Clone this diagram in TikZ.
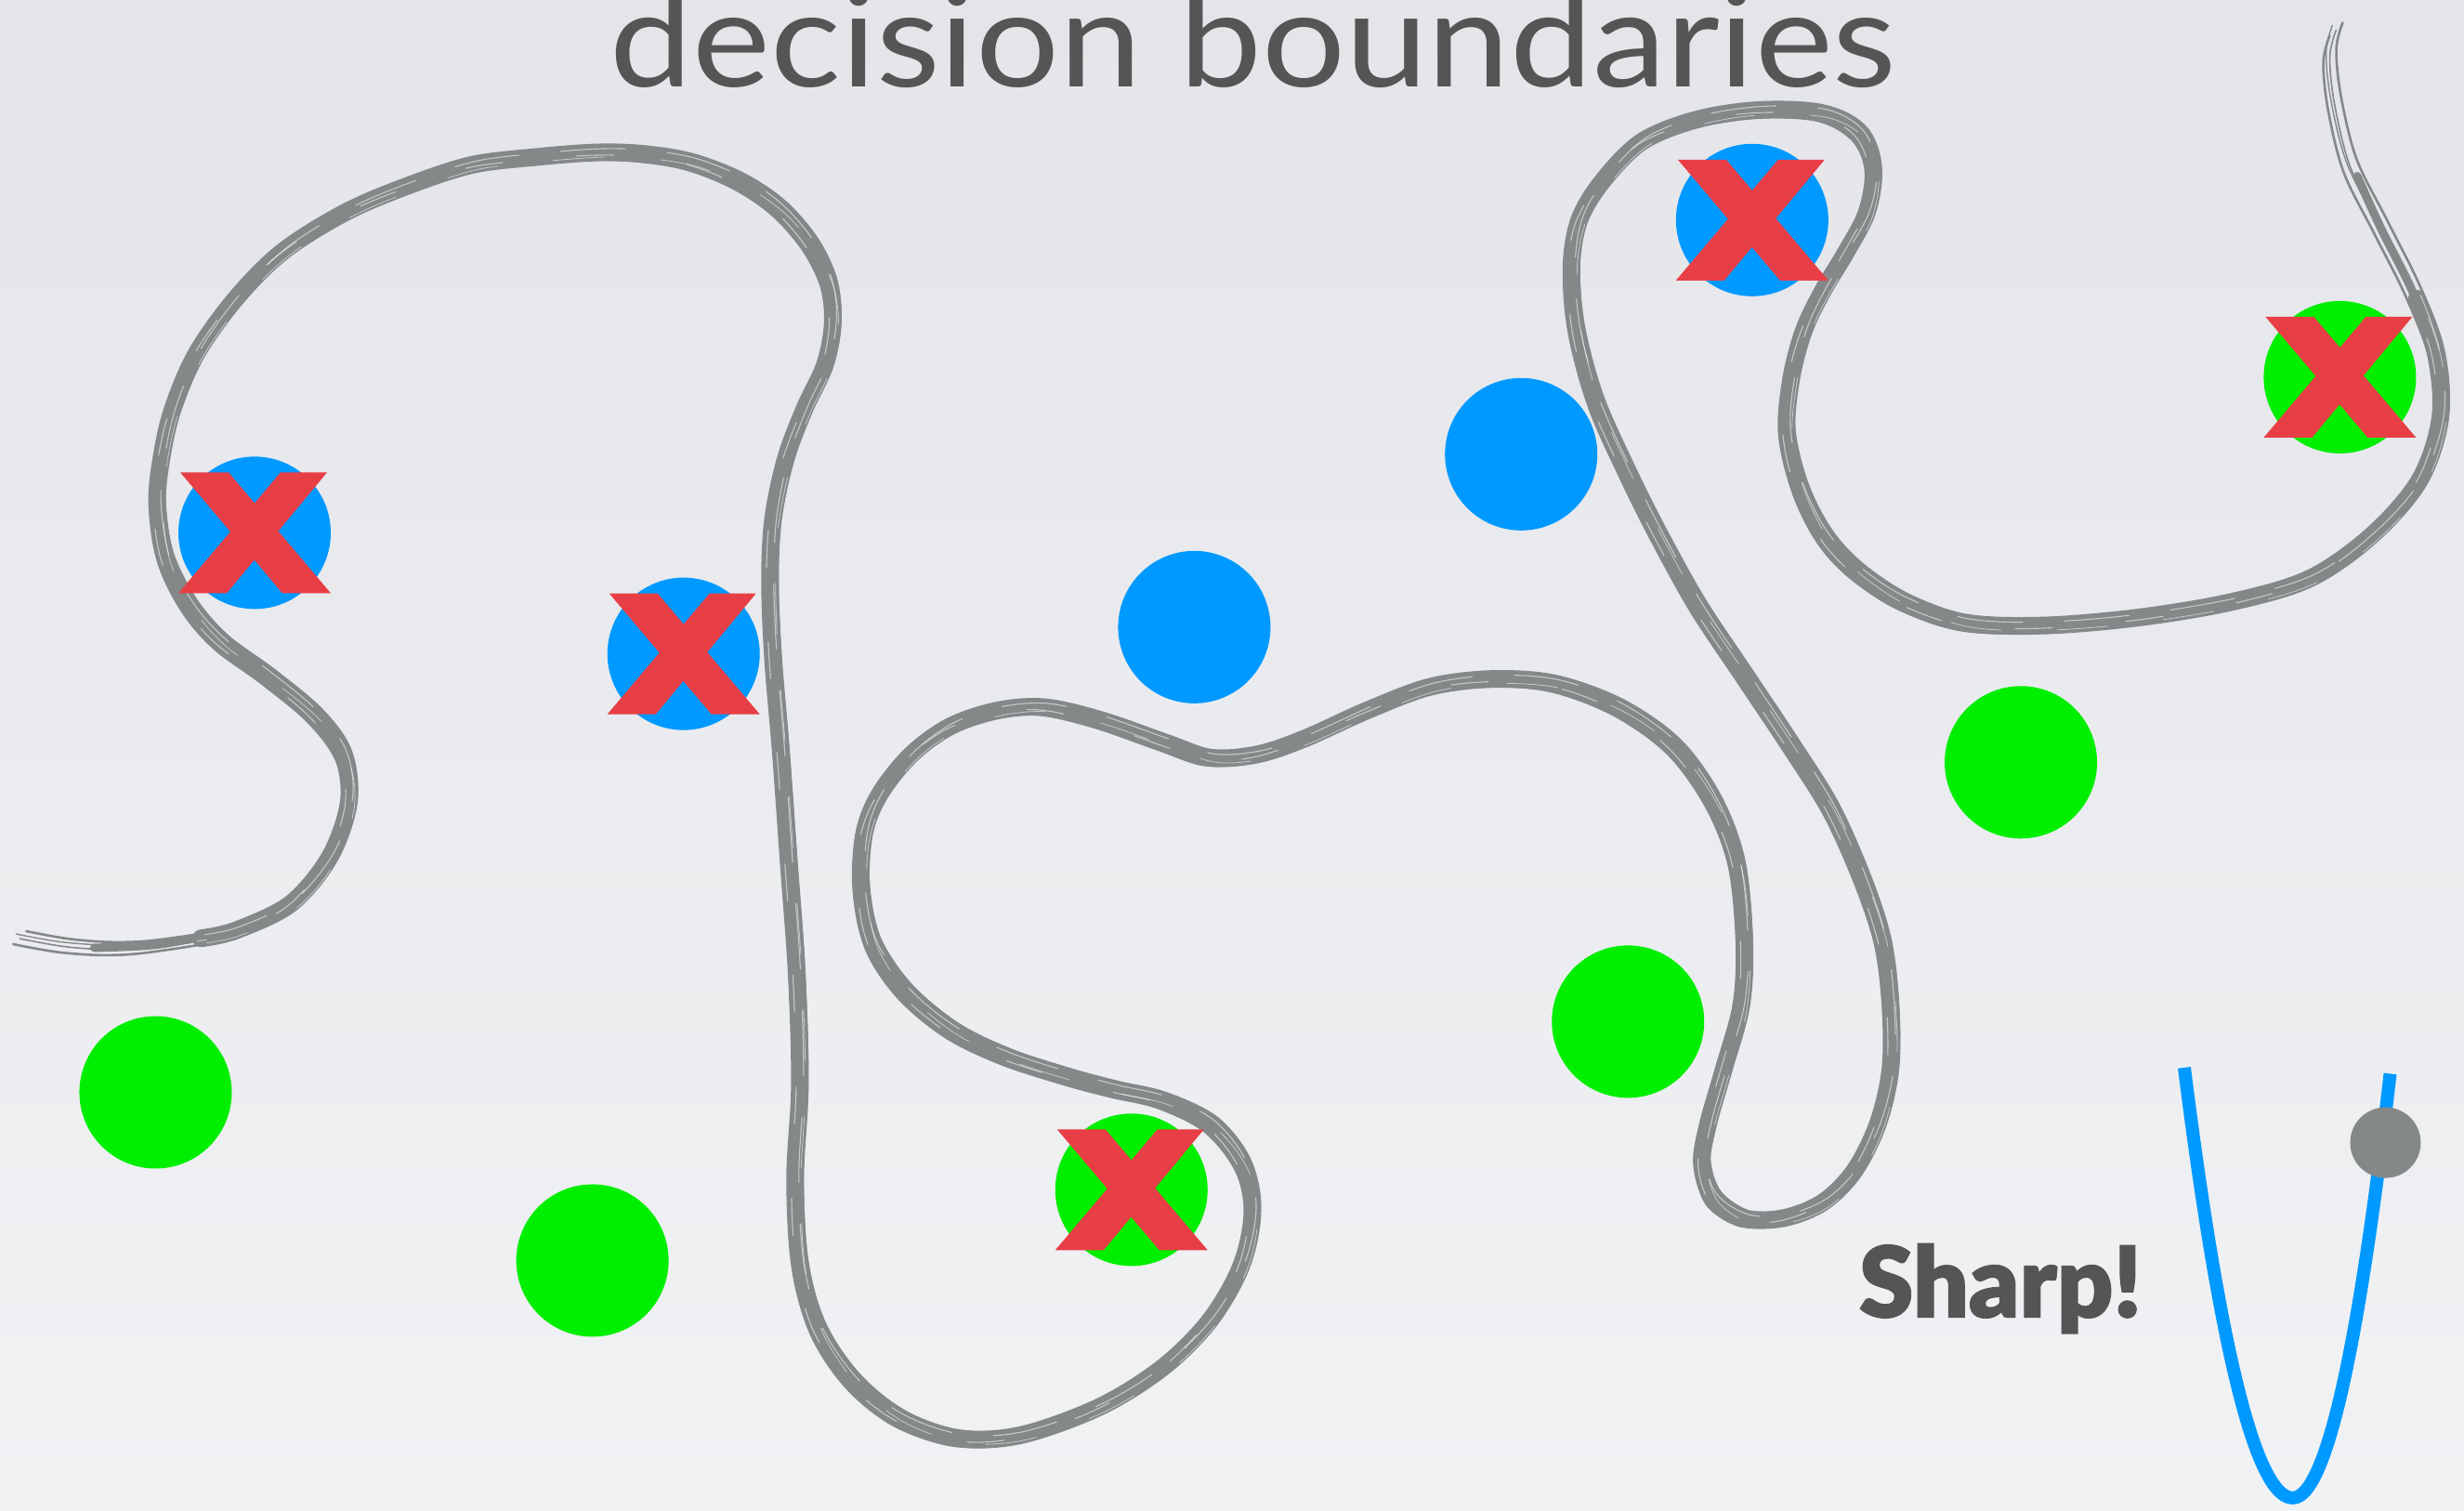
\documentclass[tikz,border=0pt]{standalone}
\usepackage{fontspec}
\newfontfamily\titlefont{Lato}
\newfontfamily\sharpfont{Lato Black}[FakeBold=1.6]
\definecolor{bgtop}{RGB}{227,229,233}
\definecolor{bgbot}{RGB}{241,242,244}
\definecolor{dotblue}{RGB}{0,153,255}
\definecolor{dotgreen}{RGB}{0,238,0}
\definecolor{xred}{RGB}{232,62,69}
\definecolor{brushgray}{RGB}{133,136,136}
\definecolor{textgray}{RGB}{85,85,85}
% core of the brush stroke
\newcommand\corepath{plot[smooth,tension=0.55] coordinates {
(128,597) (150,592) (185,575) (210,545) (222,510) (218,480)
(200,455) (170,430) (140,408) (120,385) (105,355) (100,320) (103,290) (110,260)
(125,225) (150,190) (180,160) (220,135) (260,118) (300,105) (340,100) (380,97)
(410,98) (440,103) (470,115) (495,132) (515,155) (527,180) (530,205) (525,232)
(512,260) (500,292) (492,330) (490,370) (492,420) (497,480) (502,550) (507,620)
(509,690) (506,750) (509,805) (520,845) (542,878) (572,902) (610,915) (650,913)
(700,895) (740,870) (770,840) (790,805) (797,770) (790,740) (770,715) (740,700)
(710,693) (680,685) (640,672) (605,655) (575,630) (555,600) (548,565) (550,530)
(560,505) (580,480) (605,462) (635,452) (665,450) (700,458) (740,472) (770,482)
(800,480) (830,470) (870,452) (910,437) (950,432) (990,435) (1030,450) (1065,475)
(1090,510) (1105,550) (1110,600) (1108,640) (1097,680) (1087,715) (1083,740)
(1090,762) (1110,775) (1135,775) (1160,765) (1180,745) (1195,715) (1203,680)
(1203,640) (1198,600) (1185,560) (1165,515) (1140,475) (1110,430) (1080,385)
(1055,340) (1035,300) (1015,255) (1003,210) (1000,170) (1005,140) (1020,115)
(1045,90) (1080,76) (1120,70) (1160,72) (1183,85) (1192,108) (1188,135)
(1175,160) (1160,185) (1148,210) (1140,240) (1137,275) (1145,310) (1160,340)
(1180,362) (1210,382) (1250,396) (1300,398) (1360,393) (1420,383) (1470,368)
(1510,340) (1540,305) (1553,265) (1550,225) (1538,190)}}
% thinning ends of the stroke
\newcommand\headpath{plot[smooth,tension=0.55] coordinates {
(60,603) (100,601) (150,592)}}
\newcommand\taperpath{plot[smooth,tension=0.55] coordinates {
(1550,225) (1535,185) (1515,145) (1500,112)}}
% whole stroke, for the thin bristle strands
\newcommand\fullpath{plot[smooth,tension=0.55] coordinates {
(12,596) (40,601) (70,603) (100,601) (150,592) (185,575) (210,545) (222,510) (218,480)
(200,455) (170,430) (140,408) (120,385) (105,355) (100,320) (103,290) (110,260)
(125,225) (150,190) (180,160) (220,135) (260,118) (300,105) (340,100) (380,97)
(410,98) (440,103) (470,115) (495,132) (515,155) (527,180) (530,205) (525,232)
(512,260) (500,292) (492,330) (490,370) (492,420) (497,480) (502,550) (507,620)
(509,690) (506,750) (509,805) (520,845) (542,878) (572,902) (610,915) (650,913)
(700,895) (740,870) (770,840) (790,805) (797,770) (790,740) (770,715) (740,700)
(710,693) (680,685) (640,672) (605,655) (575,630) (555,600) (548,565) (550,530)
(560,505) (580,480) (605,462) (635,452) (665,450) (700,458) (740,472) (770,482)
(800,480) (830,470) (870,452) (910,437) (950,432) (990,435) (1030,450) (1065,475)
(1090,510) (1105,550) (1110,600) (1108,640) (1097,680) (1087,715) (1083,740)
(1090,762) (1110,775) (1135,775) (1160,765) (1180,745) (1195,715) (1203,680)
(1203,640) (1198,600) (1185,560) (1165,515) (1140,475) (1110,430) (1080,385)
(1055,340) (1035,300) (1015,255) (1003,210) (1000,170) (1005,140) (1020,115)
(1045,90) (1080,76) (1120,70) (1160,72) (1183,85) (1192,108) (1188,135)
(1175,160) (1160,185) (1148,210) (1140,240) (1137,275) (1145,310) (1160,340)
(1180,362) (1210,382) (1250,396) (1300,398) (1360,393) (1420,383) (1470,368)
(1510,340) (1540,305) (1553,265) (1550,225) (1535,185) (1515,145) (1495,105)
(1485,65) (1482,35) (1486,18)}}
\begin{document}
\begin{tikzpicture}[x=1.6913pt,y=-1.6913pt,
  bdot/.style={circle, fill=dotblue, minimum size=164pt, inner sep=0pt, outer sep=0pt},
  gdot/.style={circle, fill=dotgreen, minimum size=164pt, inner sep=0pt, outer sep=0pt},
  knob/.style={circle, fill=brushgray, minimum size=76pt, inner sep=0pt, outer sep=0pt},
  brushmain/.style={draw=brushgray, line width=19pt, line cap=round, line join=round},
  brushtaper/.style={draw=brushgray, line width=9pt, line cap=round, line join=round},
  brushstrand/.style={draw=brushgray, line width=2.6pt, line cap=round, line join=round},
  brushgap/.style={draw=bgbot, line width=1.1pt, opacity=0.6, line cap=round, line join=round},
  valley/.style={draw=dotblue, line width=14pt},
  xmark/.pic={
    \fill[xred] (-80pt,65pt) -- (-28pt,65pt) -- (82pt,-65pt) -- (30pt,-65pt) -- cycle;
    \fill[xred] (28pt,65pt) -- (78pt,65pt) -- (-30pt,-65pt) -- (-82pt,-65pt) -- cycle;}
]
\useasboundingbox (0,0) rectangle (1568,961);
\clip (0,0) rectangle (1568,961);
\shade[top color=bgtop, bottom color=bgbot] (0,0) rectangle (1568,961);

% title
\node[anchor=base west, inner sep=0pt, text=textgray] (title) at (388,55)
  {\resizebox{1385pt}{\height}{\fontsize{144}{144}\titlefont decision boundaries}};

% decision boundary: brush stroke
\draw[brushmain] \corepath;
\draw[brushtaper] \taperpath;
\draw[brushtaper] \headpath;
\draw[brushstrand, shift={(8pt,6pt)}] \fullpath;
\draw[brushstrand, shift={(-6pt,-8pt)}] \fullpath;
\draw[brushstrand, line width=1.6pt, shift={(1pt,-2pt)}] \fullpath;
\draw[brushstrand, line width=1.4pt, shift={(-3pt,3pt)}] \fullpath;
\draw[brushgap, shift={(4pt,4pt)}, dash pattern=on 70pt off 45pt] \corepath;
\draw[brushgap, shift={(-4pt,-3pt)}, dash pattern=on 40pt off 80pt, dash phase=30pt] \corepath;
\draw[brushgap, line width=0.8pt, shift={(6pt,-5pt)}, dash pattern=on 55pt off 60pt, dash phase=10pt] \corepath;

% data points
\node[bdot] (b1) at (162,339) {};
\node[bdot] (b2) at (435,416) {};
\node[bdot] (b3) at (760,399) {};
\node[bdot] (b4) at (968,289) {};
\node[bdot] (b5) at (1115,140) {};
\node[gdot] (g1) at (1489,240) {};
\node[gdot] (g2) at (1286,485) {};
\node[gdot] (g3) at (1036,650) {};
\node[gdot] (g4) at (720,757) {};
\node[gdot] (g5) at (99,695) {};
\node[gdot] (g6) at (377,802) {};

\pic at (b1) {xmark};
\pic at (b2) {xmark};
\pic at (b5) {xmark};
\pic at (g1) {xmark};
\pic at (g4) {xmark};

% sharp valley
\draw[valley] plot[domain=-69:0, samples=50] ({1459+\x},{953-0.0575*\x*\x})
  -- plot[domain=0:62, samples=50] ({1459+\x},{953-0.0702*\x*\x});
\node[knob] (ball) at (1518,727) {};
\node[anchor=base west, inner sep=0pt, text=textgray] (sharp) at (1183,838)
  {\resizebox{304pt}{!}{\sharpfont Sharp!}};
\end{tikzpicture}
\end{document}
